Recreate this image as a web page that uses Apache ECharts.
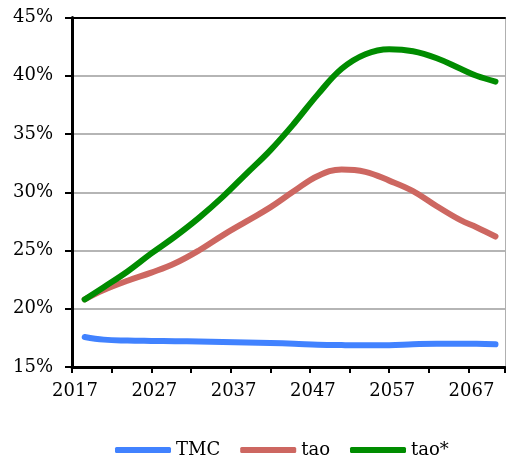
<!DOCTYPE html>
<html>
<head>
<meta charset="utf-8">
<script src="https://cdn.jsdelivr.net/npm/echarts@6/dist/echarts.min.js"></script>
<style>
    html, body { margin: 0; padding: 0; background: #fff; }
    #chart { width: 506px; height: 459px; }
</style>
</head>
<body>
<div id="chart"></div>
<script>
// x positions (years)
const years = [2018.6, 2021, 2024, 2027, 2030, 2033, 2036, 2039, 2042, 2045, 2048, 2051, 2054, 2057, 2060, 2063, 2066, 2068, 2070.4];

// values in %
const tmc = [17.58, 17.35, 17.27, 17.24, 17.22, 17.19, 17.15, 17.1, 17.06, 17.0, 16.92, 16.88, 16.86, 16.87, 16.95, 17.0, 17.0, 17.0, 16.95];
const tao = [20.8, 21.6, 22.4, 23.1, 23.9, 25.0, 26.3, 27.5, 28.7, 30.1, 31.4, 31.95, 31.75, 31.0, 30.1, 28.8, 27.6, 27.0, 26.2];
const taoStar = [20.8, 21.85, 23.2, 24.75, 26.2, 27.8, 29.6, 31.6, 33.6, 35.9, 38.4, 40.6, 41.85, 42.27, 42.1, 41.5, 40.6, 40.0, 39.5];

const seriesNames = ['TMC', 'tao', 'tao*'];
const seriesColors = ['#4182ff', '#cd6761', '#008c00'];

const FONT = 'DejaVu Serif';

function pairs (vals) {
    return vals.map((v, i) => [years[i], v]);
}

const chart = echarts.init(document.getElementById('chart'));

let option = {
    animation: false,
    backgroundColor: '#fff',
    grid: {
        left: 72,
        right: 1,
        top: 17.5,
        bottom: 92,
        containLabel: false,
        outerBoundsMode: 'none',
    },
    legend: {
        left: 110,
        top: 436,
        icon: 'roundRect',
        itemWidth: 56,
        itemHeight: 6,
        itemGap: 20,
        textStyle: { fontFamily: FONT, fontSize: 18, color: '#000' },
        data: seriesNames,
    },
    xAxis: [
        {
            type: 'value',
            min: 2017,
            max: 2071.6,
            interval: 5,
            axisLine: { lineStyle: { color: '#000', width: 3 } },
            axisTick: { show: true, length: 6, lineStyle: { color: '#000', width: 2 } },
            splitLine: { show: false },
            axisLabel: {
                margin: 15,
                fontFamily: FONT,
                fontSize: 18,
                color: '#000',
                padding: [0, 0, 0, 6],
                formatter: (v) => (Math.abs((v - 2017) % 10) < 1e-6 ? String(v) : ''),
            },
        },
        {
            // black top border
            type: 'value',
            position: 'top',
            min: 2017,
            max: 2071.6,
            axisLine: { onZero: false, lineStyle: { color: '#000', width: 2 } },
            axisTick: { show: false },
            axisLabel: { show: false },
            splitLine: { show: false },
        },
    ],
    yAxis: [
        {
            type: 'value',
            min: 15,
            max: 45,
            interval: 5,
            axisLine: { show: true, lineStyle: { color: '#000', width: 3 } },
            axisTick: { show: true, length: 7, lineStyle: { color: '#000', width: 2 } },
            splitLine: { show: true, lineStyle: { color: '#9c9c9c', width: 1.5 } },
            axisLabel: {
                margin: 19,
                fontFamily: FONT,
                fontSize: 18,
                color: '#000',
                formatter: (v) => v + '%',
            },
        },
        {
            // grey right border
            type: 'value',
            position: 'right',
            min: 15,
            max: 45,
            axisLine: { show: true, onZero: false, lineStyle: { color: '#b0b0b0', width: 1 } },
            axisTick: { show: false },
            axisLabel: { show: false },
            splitLine: { show: false },
        },
    ],
    series: [tmc, tao, taoStar].map((vals, i) => ({
        name: seriesNames[i],
        type: 'line',
        data: pairs(vals),
        smooth: 0.4,
        showSymbol: false,
        symbol: 'none',
        color: seriesColors[i],
        lineStyle: { width: 6, color: seriesColors[i], cap: 'round', join: 'round' },
        z: 3 + (i === 1 ? 0 : i),
    })),
};

chart.setOption(option);
</script>
</body>
</html>
